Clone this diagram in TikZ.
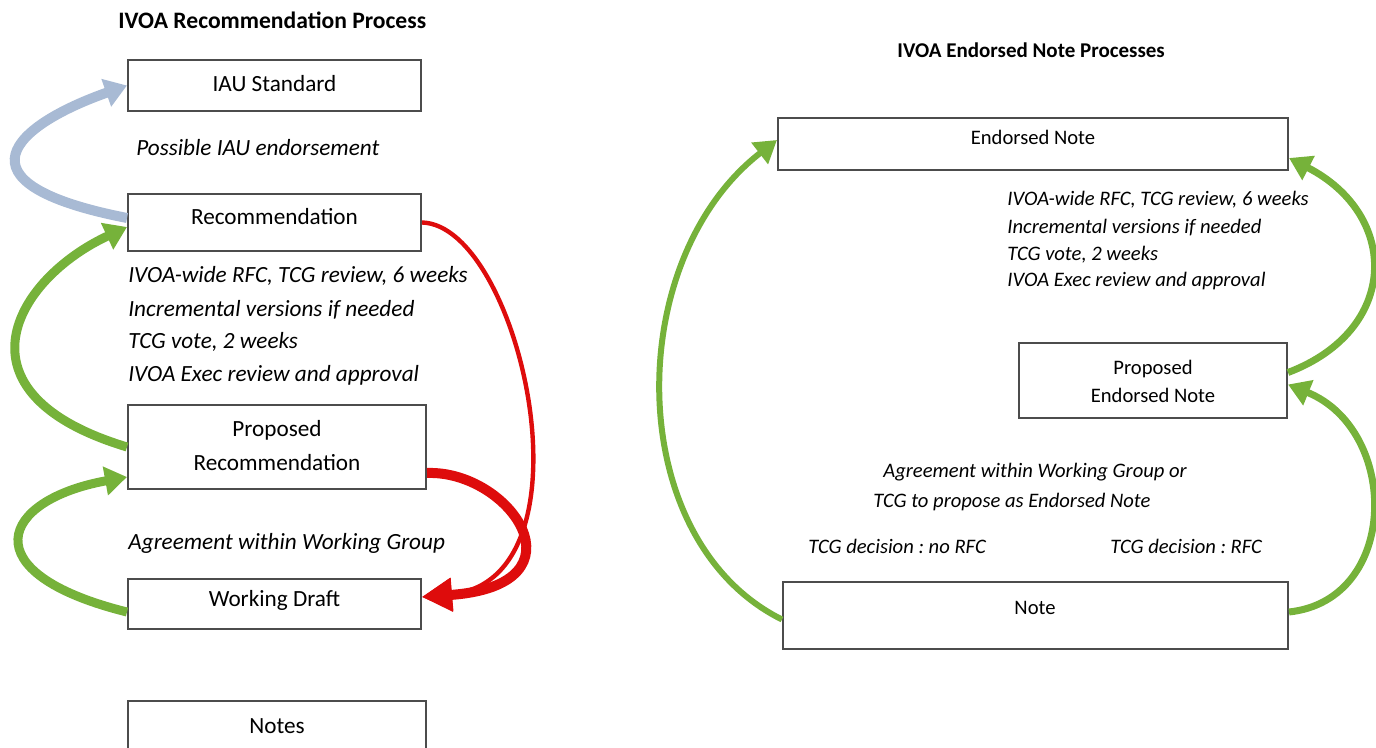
\documentclass[tikz,border=0pt]{standalone}
\usepackage{fontspec}
\setmainfont{Carlito}
\usetikzlibrary{arrows.meta}

\definecolor{iaublue}{RGB}{168,186,212}
\definecolor{passgreen}{RGB}{118,178,58}
\definecolor{dropred}{RGB}{222,12,12}

\tikzset{
  stage/.style={draw=black!70, line width=1pt, fill=white, inner sep=0pt},
  bigtext/.style={font=\fontsize{11.6}{17}\selectfont, align=center},
  smalltext/.style={font=\fontsize{10.3}{14}\selectfont, align=center},
  bignote/.style={font=\fontsize{11.6}{13}\selectfont\itshape, anchor=west, inner sep=0pt},
  smallnote/.style={font=\fontsize{10.3}{12}\selectfont\itshape, anchor=west, inner sep=0pt},
  flow/.style={line width=4.5pt, -{Triangle[length=11pt,width=14pt]}},
}

\begin{document}
\frenchspacing
\begin{tikzpicture}[x=0.5pt, y=-0.5pt]

\clip (0,0) rectangle (1376,748);

% Left: recommendation track
\node[font=\fontsize{11.8}{14}\selectfont\bfseries, anchor=west, inner sep=0pt] (lefttitle) at (118,20) {IVOA Recommendation Process};

\node[stage, minimum width=146.5pt, minimum height=25.5pt] (iau) at (274.5,85.5) {};
\node[bigtext] (iautext) at (274.5,84) {IAU Standard};
\node[bignote] (iaunote) at (136,148) {Possible IAU endorsement};

\node[stage, minimum width=146.5pt, minimum height=28.5pt] (rec) at (274.5,222.5) {};
\node[bigtext] (rectext) at (274.5,217) {Recommendation};

\node[bignote] (recnote1) at (128,276) {IVOA-wide RFC, TCG review, 6 weeks};
\node[bignote] (recnote2) at (128,310) {Incremental versions if needed};
\node[bignote] (recnote3) at (128,342) {TCG vote, 2 weeks};
\node[bignote] (recnote4) at (128,375) {IVOA Exec review and approval};

\node[stage, minimum width=149pt, minimum height=42pt] (prop) at (277,447) {};
\node[bigtext] (proptext) at (277,446) {Proposed\\Recommendation};

\node[bignote] (wgnote) at (128,543) {Agreement within Working Group};

\node[stage, minimum width=146.5pt, minimum height=25pt] (wd) at (274.5,604) {};
\node[bigtext] (wdtext) at (274.5,600) {Working Draft};

\node[stage, minimum width=149pt, minimum height=44.5pt] (notes) at (277,745.5) {};
\node[bigtext] (notestext) at (277,726) {Notes};

% Left arrows
\draw[flow, iaublue, line width=5pt] ([yshift=2.25pt]rec.west) .. controls (-52,183) and (15,125) .. (iau.west);
\draw[flow, passgreen] (prop.west) .. controls (-52,393) and (15,279) .. ([yshift=-2.25pt]rec.west);
\draw[flow, passgreen] ([yshift=-4pt]wd.west) .. controls (-30,573) and (0,500) .. ([yshift=-15pt]prop.west);
\draw[flow, dropred, line width=2.2pt, -{Triangle[length=15pt,width=16pt]}] (rec.east) .. controls (520,225) and (600,580) .. ([yshift=3.5pt]wd.east);
\draw[flow, dropred, line width=5pt, -{Triangle[length=15pt,width=16pt]}] ([yshift=-13pt]prop.east) .. controls (510,470) and (590,585) .. ([yshift=3.5pt]wd.east);

% Right: endorsed note track
\node[font=\fontsize{10.5}{12}\selectfont\bfseries, anchor=west, inner sep=0pt] (righttitle) at (897,50) {IVOA Endorsed Note Processes};

\node[stage, minimum width=255pt, minimum height=26pt] (en) at (1033,144) {};
\node[smalltext] (entext) at (1033,137) {Endorsed Note};

\node[smallnote] (ennote1) at (1007,200) {IVOA-wide RFC, TCG review, 6 weeks};
\node[smallnote] (ennote2) at (1007,228) {Incremental versions if needed};
\node[smallnote] (ennote3) at (1007,255) {TCG vote, 2 weeks};
\node[smallnote] (ennote4) at (1007,281) {IVOA Exec review and approval};

\node[stage, minimum width=134pt, minimum height=37.5pt] (pen) at (1153,380.5) {};
\node[smalltext] (pentext) at (1153,381) {Proposed\\Endorsed Note};

\node[smallnote] (wgnote1) at (883,472) {Agreement within Working Group or};
\node[smallnote] (wgnote2) at (873,502) {TCG to propose as Endorsed Note};
\node[smallnote] (norfc) at (808,546) {TCG decision : no RFC};
\node[smallnote] (rfc) at (1110,546) {TCG decision : RFC};

\node[stage, minimum width=252.5pt, minimum height=33.5pt] (note) at (1035.5,615.5) {};
\node[smalltext] (notetext) at (1035,608) {Note};

% Right arrows
\draw[flow, passgreen, line width=3pt, -{Triangle[length=11pt,width=13pt]}] ([yshift=-2pt]note.west) .. controls (622,540) and (622,260) .. ([yshift=2pt]en.west);
\draw[flow, passgreen, line width=3.5pt, -{Triangle[length=11pt,width=13pt]}] ([yshift=4pt]pen.east) .. controls (1400,330) and (1400,215) .. ([yshift=-7pt]en.east);
\draw[flow, passgreen, line width=3.5pt, -{Triangle[length=11pt,width=13pt]}] ([yshift=1.75pt]note.east) .. controls (1400,600) and (1400,430) .. ([yshift=-2pt]pen.east);

\end{tikzpicture}
\end{document}
